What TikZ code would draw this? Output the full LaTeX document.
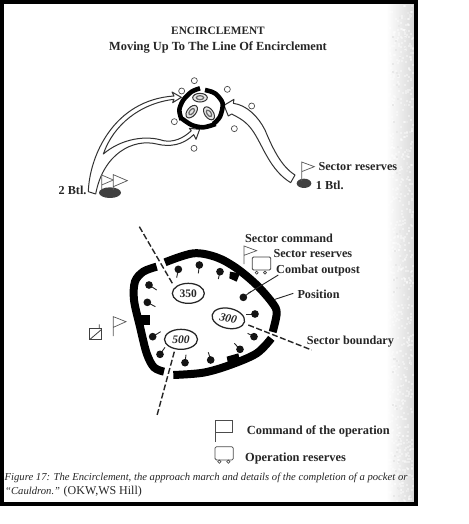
\documentclass[tikz,border=0pt]{standalone}
\usepackage{fontspec}
\usetikzlibrary{shapes.geometric}
\setmainfont{Liberation Serif}
\begin{document}
\begin{tikzpicture}[x=1pt,y=-1pt,
  lab/.style={font=\fontsize{12.2}{14}\selectfont\bfseries,text=black!85,inner sep=0pt,anchor=west},
  ttl/.style={text=black!85,inner sep=0pt},
  hollow/.style={draw=black!80,line width=1pt,fill=white,line join=round},
  wall/.style={line width=8pt,black},
  ring/.style={line width=1pt,black!80,line cap=butt},
  bound/.style={line width=1.4pt,black!85,dash pattern=on 6pt off 2.5pt},
  oval/.style={draw=black!85,line width=1.25pt,fill=white,ellipse},
  pennant/.style={draw=black!65,line width=0.7pt,fill=white,line join=miter},
  sm/.style={draw=black!70,line width=0.7pt,fill=white},
  stem/.style={line width=0.9pt,black!85},
  num/.style={font=\fontsize{11.5}{13}\selectfont\itshape\bfseries,text=black!85,inner sep=0pt}]
\useasboundingbox (0,0) rectangle (468,524);
\fill[white] (0,0) rectangle (468,524);
% page shadow
\shade[left color=white,right color=black!15,shading angle=90] (386,4) rectangle (414,502);
\pgfmathsetseed{17}
\foreach \i in {1,...,700}{
  \pgfmathsetmacro{\px}{386+26*rnd}
  \pgfmathsetmacro{\py}{4+496*rnd}
  \fill[white,opacity=0.4] (\px,\py) rectangle ++(2,2);
}
\foreach \i in {1,...,120}{
  \pgfmathsetmacro{\px}{392+20*rnd}
  \pgfmathsetmacro{\py}{4+496*rnd}
  \fill[black!9] (\px,\py) rectangle ++(2,2);
}
% frame
\fill[black] (0,0) rectangle (418,4);
\fill[black] (0,0) rectangle (4,506);
\fill[black] (414,0) rectangle (418,506);
\fill[black] (0,502) rectangle (418,506);
% titles
\node[ttl,font=\fontsize{11.3}{13}\selectfont\bfseries] (title) at (218,31) {ENCIRCLEMENT};
\node[ttl,font=\fontsize{12.4}{14}\selectfont\bfseries] (subtitle) at (218,48) {Moving Up To The Line Of Encirclement};
% ===== upper sketch (zoom coordinates)
\begin{scope}[shift={(50,10)},scale=1/3]
  \draw[hollow] (115,545)
    .. controls (118,440) and (190,270) .. (372,258)
    -- (366,246) -- (394,262) -- (368,278) -- (372,268)
    .. controls (270,280) and (190,345) .. (160,432)
    .. controls (215,385) and (290,375) .. (340,392)
    .. controls (370,398) and (400,385) .. (424,362)
    -- (418,355) -- (449,358) -- (438,388) -- (431,374)
    .. controls (400,405) and (360,412) .. (320,402)
    .. controls (250,385) and (160,430) .. (137,552)
    -- cycle;
  \draw[hollow] (722,518)
    .. controls (660,480) and (640,410) .. (610,365)
    .. controls (590,335) and (570,325) .. (545,312)
    -- (535,318) -- (522,286) -- (552,268) -- (550,280)
    .. controls (590,285) and (625,320) .. (645,360)
    .. controls (670,420) and (695,470) .. (735,495)
    -- cycle;
  % right group
  \fill[black!75] (762,520) ellipse [x radius=22,y radius=14];
  \draw[pennant] (755,512) -- (755,456) -- (793,470) -- (755,485);
  % left group
  \fill[black!75] (180,548) ellipse [x radius=33,y radius=16];
  \draw[pennant] (155,540) -- (155,495) -- (190,510) -- (155,525);
  \draw[pennant] (190,540) -- (190,494) -- (232,512) -- (190,530);
  % position arcs
  \draw[line width=4.6pt,black] plot[smooth] coordinates {(450,235) (425,245) (400,270) (388,300) (395,330)};
  \draw[line width=4.6pt,black] plot[smooth] coordinates {(465,240) (495,250) (518,280) (510,320) (490,342)};
  \draw[line width=4.6pt,black] plot[smooth] coordinates {(396,326) (425,345) (460,352) (497,342)};
  % inner ovals
  \foreach \cx/\cy/\rot in {450/263/0,425/305/50,477/310/-55}{
    \draw[ring,fill=black!10,rotate around={\rot:(\cx,\cy)}] (\cx,\cy) ellipse [x radius=22,y radius=13];
    \draw[line width=1.2pt,black!60,rotate around={\rot:(\cx,\cy)}] (\cx,\cy) ellipse [x radius=11,y radius=6];
  }
  % small circles
  \foreach \cx/\cy in {433/212,395/243,532/238,605/288,553/356,373/335,432/415}{
    \draw[sm] (\cx,\cy) circle [radius=9];
  }
  \node[lab,anchor=east] (btl2) at (110,541) {2 Btl.};
  \node[lab] (secres1) at (805,470) {Sector reserves};
  \node[lab] (btl1) at (797,525) {1 Btl.};
\end{scope}
% ===== lower sketch
\begin{scope}[shift={(80,210)},scale=1/3]
  \draw[wall] plot[smooth,tension=0.55] coordinates {(230,170) (190,185) (165,215) (162,270) (180,350) (200,430) (222,472) (252,485)};
  \draw[wall] plot[smooth,tension=0.55] coordinates {(255,157) (340,130) (410,142) (470,175) (530,225) (578,280) (590,310) (578,366)};
  \draw[wall] plot[smooth,tension=0.55] coordinates {(574,385) (530,430) (450,465) (370,488) (280,495)};
  \fill[black] (175,315) rectangle (210,345);
  \fill[black] (450,185) -- (480,190) -- (470,215) -- (448,205) -- cycle;
  \fill[black] (440,440) -- (475,430) -- (480,455) -- (445,465) -- cycle;
  \draw[bound] (178,50) -- (280,225);
  \draw[bound] (505,345) -- (695,420);
  \draw[bound] (283,425) -- (230,620);
  \node[oval,minimum width=32pt,minimum height=20pt] (o350) at (325,250) {};
  \node[oval,minimum width=33pt,minimum height=20pt,rotate=-12] (o300) at (445,325) {};
  \node[oval,minimum width=33pt,minimum height=20pt] (o500) at (303,388) {};
  \node[num,font=\fontsize{11.5}{13}\selectfont\bfseries] at (o350) {350};
  \node[num,rotate=-12] at (o300) {300};
  \node[num] at (o500) {500};
  \foreach \hx/\hy/\ex/\ey in {295/178/290/203,358/165/355/190,420/185/415/207,207/225/230/240,202/277/226/290,218/380/242/365,240/433/255/412,315/458/318/434,392/450/385/427,480/418/463/400,522/380/503/370,525/312/498/312,490/262/512/245}{
    \draw[stem] (\hx,\hy) -- (\ex,\ey);
    \fill[black!92] (\hx,\hy) circle [radius=11.5];
  }
  \draw[stem] (505,250) -- (595,195);
  \draw[stem] (585,268) -- (640,250);
  % sector command flag and reserves
  \draw[pennant] (492,162) -- (492,108) -- (530,122) -- (492,136);
  \draw[draw=black!75,line width=0.8pt,rounded corners=1.2pt] (517,141) rectangle (572,180);
  \draw[black!75,line width=0.7pt] (530,188) circle [radius=4.5] (555,188) circle [radius=4.5];
  % left symbols
  \draw[draw=black!75,line width=0.8pt] (28,355) rectangle (65,388);
  \draw[black!75,line width=0.8pt] (30,388) -- (65,358) (58,355) -- (58,343);
  \draw[pennant] (100,378) -- (100,320) -- (138,335) -- (100,352);
  \node[lab] (l1) at (495,85) {Sector command};
  \node[lab] (l2) at (580,130) {Sector reserves};
  \node[lab] (l3) at (588,181) {Combat outpost};
  \node[lab] (l4) at (652,252) {Position};
  \node[lab] (l5) at (680,396) {Sector boundary};
\end{scope}
% ===== legend
\begin{scope}[shift={(0,410)},scale=1/3]
  \draw[draw=black!70,line width=0.8pt] (647,96) -- (647,30) -- (697,30) -- (697,67) -- (647,67);
  \draw[draw=black!70,line width=0.8pt,rounded corners=1.5pt] (645,110) rectangle (700,150);
  \draw[black!70,line width=0.7pt] (658,155) circle [radius=5] (685,155) circle [radius=5];
  \node[lab,font=\fontsize{12.4}{14}\selectfont\bfseries] (leg1) at (740,65) {Command of the operation};
  \node[lab,font=\fontsize{12.4}{14}\selectfont\bfseries] (leg2) at (735,146) {Operation reserves};
\end{scope}
% caption
\node[inner sep=0pt,anchor=west,text=black!85,font=\fontsize{10.65}{12}\selectfont\itshape] (cap1) at (4.5,478) {Figure 17: The Encirclement, the approach march and details of the completion of a pocket or};
\node[inner sep=0pt,anchor=west,text=black!85,font=\fontsize{10.65}{12}\selectfont] (cap2) at (5,492) {\textit{“Cauldron.”} {\fontsize{12}{12}\selectfont (OKW,WS Hill)}};
\end{tikzpicture}
\end{document}
